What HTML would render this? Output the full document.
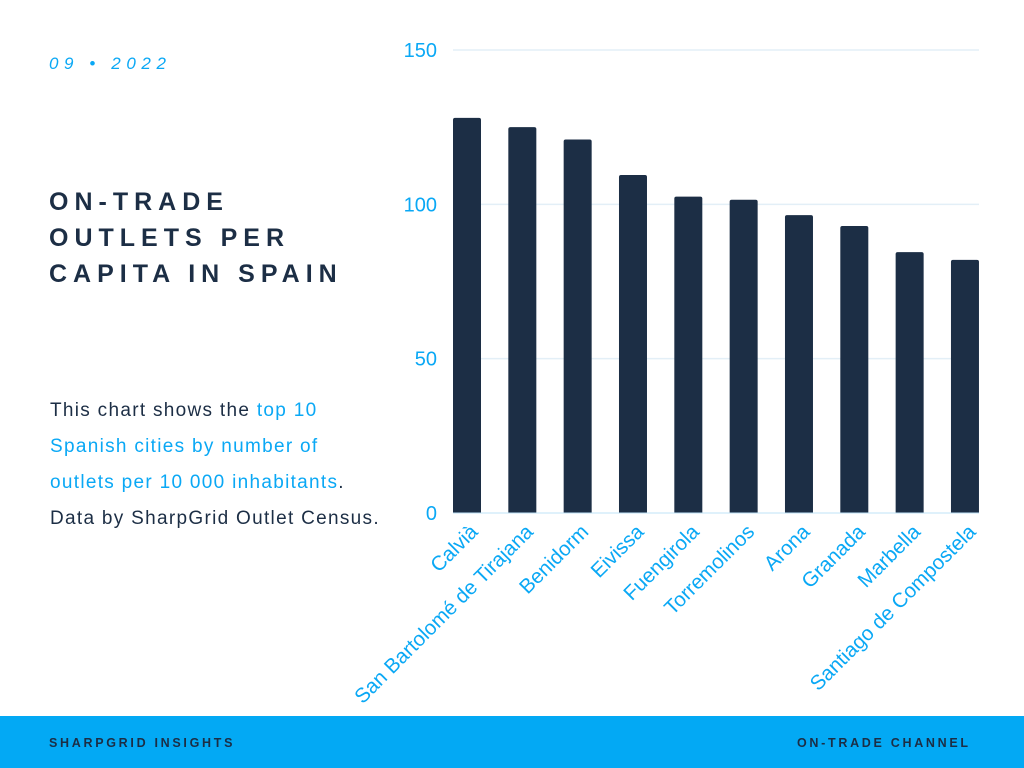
<!DOCTYPE html>
<html><head><meta charset="utf-8"><style>
*{margin:0;padding:0;box-sizing:border-box}
body{width:1024px;height:768px;background:#fff;position:relative;overflow:hidden;font-family:"Liberation Sans",sans-serif}
.abs{position:absolute}
#date{left:49px;top:54px;color:#0aa8f5;font-size:17px;font-style:italic;letter-spacing:5.6px}
#title{left:49px;top:184px;color:#1c2e45;font-size:25px;font-weight:bold;letter-spacing:6px;line-height:36px}
#desc{left:50px;top:393px;color:#1c2e45;font-size:19px;line-height:36px;letter-spacing:1.3px}
#desc span{color:#0aa8f5}
#footer{left:0;top:716px;width:1024px;height:52px;background:#03a9f4}
.ft{top:736px;font-size:12.5px;font-weight:bold;letter-spacing:2.7px;color:#1c2e45}
</style></head><body>
<div id="date" class="abs">09 • 2022</div>
<div id="title" class="abs">ON-TRADE<br>OUTLETS PER<br>CAPITA IN SPAIN</div>
<div id="desc" class="abs">This chart shows the <span>top 10</span><br><span>Spanish cities by number of</span><br><span>outlets per 10 000 inhabitants</span>.<br>Data by SharpGrid Outlet Census.</div>
<svg id="chart" class="abs" style="left:0;top:0" width="1024" height="716"></svg>
<div id="footer" class="abs"></div>
<div class="abs ft" style="left:49px">SHARPGRID INSIGHTS</div>
<div class="abs ft" style="left:797px">ON-TRADE CHANNEL</div>
<script>
const categories=["Calvià","San Bartolomé de Tirajana","Benidorm","Eivissa","Fuengirola","Torremolinos","Arona","Granada","Marbella","Santiago de Compostela"];
const values=[128,125,121,109.5,102.5,101.5,96.5,93,84.5,82];
const ticks=[0,50,100,150];
const NS="http://www.w3.org/2000/svg";
const svg=document.getElementById('chart');
const y0=513,y1=50,vmax=150;
const y=v=>y0-(v/vmax)*(y0-y1);
const x=i=>467+i*55.33;
const bw=28;
function mk(t,a){const e=document.createElementNS(NS,t);for(const k in a)e.setAttribute(k,a[k]);svg.appendChild(e);return e;}
ticks.forEach(t=>{
  if(t>0){const g=mk('line',{x1:453,x2:979,y1:y(t),y2:y(t),stroke:'#e3eff7','stroke-width':1.5});
  
  }
  const l=mk('text',{x:437,y:y(t)+7,'text-anchor':'end',fill:'#0aa8f5','font-size':20,'font-family':'Liberation Sans, sans-serif'});
  l.textContent=t;
  
  
});
values.forEach((v,i)=>{
  const cx=x(i),r=2;
  const p=mk('path',{d:`M${cx-bw/2},${y0}V${y(v)+r}Q${cx-bw/2},${y(v)} ${cx-bw/2+r},${y(v)}H${cx+bw/2-r}Q${cx+bw/2},${y(v)} ${cx+bw/2},${y(v)+r}V${y0}Z`,fill:'#1c2e45'});
  
  
  const ax=cx+12, ay=533;
  const t=mk('text',{x:ax,y:ay,'text-anchor':'end',fill:'#0aa8f5','font-size':20.5,'font-family':'Liberation Sans, sans-serif',transform:`rotate(-45 ${ax} ${ay})`});
  t.textContent=categories[i];
  
  
});
const ax=mk('line',{x1:453,x2:979,y1:y0,y2:y0,stroke:'#bfe3f7','stroke-width':1});


</script>
</body></html>
